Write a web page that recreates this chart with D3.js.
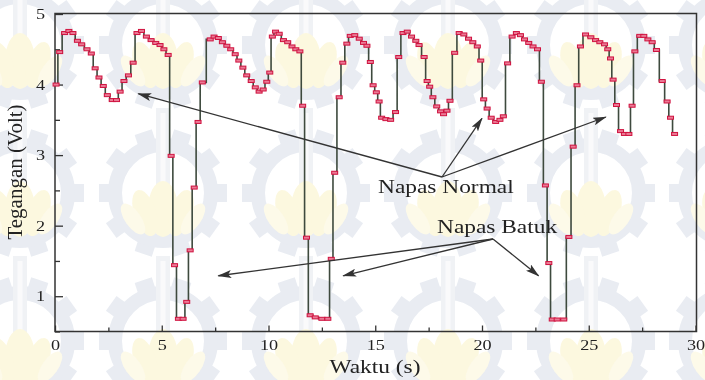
<!DOCTYPE html>
<html>
<head>
<meta charset="utf-8">
<script src="https://cdn.jsdelivr.net/npm/d3@7"></script>
<style>
  html, body { margin: 0; padding: 0; background: #ffffff; }
  svg { display: block; }
  text { font-family: "Liberation Serif", "Times New Roman", serif; fill: #222; }
</style>
</head>
<body>
<svg id="chart" width="705" height="380"></svg>
<script>
// Respiration sensor output: time (s) and voltage (V)
const waktu = [
  0.05, 0.22, 0.45, 0.65, 0.84, 1.05, 1.25, 1.50, 1.70, 1.88, 2.06, 2.26, 2.45, 2.68, 2.88,
  3.05, 3.23, 3.44, 3.66, 3.84, 4.05, 4.28, 4.50, 4.72, 4.92, 5.10, 5.30, 5.44, 5.60, 5.78,
  6.00, 6.17, 6.33, 6.52, 6.70, 6.90, 7.27, 7.45, 7.65, 7.84, 8.05, 8.23, 8.44, 8.61, 8.80,
  8.98, 9.19, 9.38, 9.56, 9.75, 9.92, 10.06, 10.18, 10.33, 10.50, 10.70, 10.90, 11.10, 11.28, 11.47,
  11.60, 11.78, 11.95, 12.19, 12.50, 12.78, 12.94, 13.10, 13.31, 13.48, 13.67, 13.83, 14.04, 14.25, 14.45,
  14.61, 14.77, 14.90, 15.05, 15.18, 15.30, 15.50, 15.72, 15.95, 16.10, 16.30, 16.50, 16.70, 16.90, 17.05,
  17.29, 17.43, 17.55, 17.70, 17.88, 18.06, 18.20, 18.36, 18.50, 18.72, 18.93, 19.15, 19.37, 19.57, 19.78,
  19.94, 20.08, 20.24, 20.43, 20.64, 20.84, 21.00, 21.20, 21.41, 21.61, 21.80, 21.99, 22.19, 22.39, 22.60,
  22.78, 22.97, 23.13, 23.29, 23.52, 23.83, 24.07, 24.27, 24.45, 24.61, 24.85, 25.10, 25.32, 25.52, 25.74,
  25.89, 26.02, 26.14, 26.30, 26.49, 26.67, 26.88, 27.03, 27.16, 27.39, 27.58, 27.77, 27.97, 28.17, 28.44,
  28.67, 28.83, 29.02
];
const tegangan = [
  4.00, 4.46, 4.73, 4.76, 4.73, 4.62, 4.57, 4.50, 4.44, 4.23, 4.10, 3.98, 3.85, 3.78, 3.78,
  3.90, 4.05, 4.13, 4.31, 4.73, 4.76, 4.68, 4.63, 4.59, 4.56, 4.50, 4.42, 2.99, 1.44, 0.68,
  0.68, 0.92, 1.65, 2.54, 3.47, 4.03, 4.64, 4.68, 4.66, 4.60, 4.55, 4.50, 4.43, 4.34, 4.24,
  4.13, 4.05, 3.96, 3.90, 3.93, 4.04, 4.17, 4.68, 4.75, 4.72, 4.63, 4.60, 4.54, 4.50, 4.47,
  3.70, 1.83, 0.73, 0.70, 0.68, 0.68, 1.53, 2.75, 3.82, 4.31, 4.58, 4.69, 4.70, 4.65, 4.59,
  4.55, 4.32, 3.99, 3.89, 3.76, 3.53, 3.51, 3.50, 3.61, 4.39, 4.73, 4.75, 4.68, 4.62, 4.56,
  4.39, 4.05, 3.97, 3.82, 3.69, 3.62, 3.58, 3.63, 3.77, 4.45, 4.73, 4.71, 4.65, 4.60, 4.54,
  4.34, 3.79, 3.66, 3.53, 3.47, 3.50, 3.55, 4.30, 4.68, 4.73, 4.70, 4.64, 4.59, 4.54, 4.50,
  4.04, 2.57, 1.47, 0.67, 0.67, 0.67, 1.84, 3.12, 3.99, 4.54, 4.71, 4.67, 4.63, 4.60, 4.57,
  4.50, 4.37, 4.07, 3.71, 3.34, 3.30, 3.30, 3.70, 4.47, 4.69, 4.69, 4.64, 4.60, 4.49, 4.05,
  3.76, 3.53, 3.30
];

// Axis ticks
const xMajor = [0, 5, 10, 15, 20, 25, 30];
const xMinor = [2.5, 7.5, 12.5, 17.5, 22.5, 27.5];
const yMajor = [1, 2, 3, 4, 5];
const yMinor = [0.5, 1.5, 2.5, 3.5, 4.5];

// Annotation labels and the points their arrows point at [t, v]
const labelNormal = "Napas Normal";
const targetsNormal = [[3.9, 3.87], [20.0, 3.52], [25.8, 3.54]];
const labelBatuk = "Napas Batuk";
const targetsBatuk = [[7.65, 1.29], [13.5, 1.29], [22.65, 1.29]];

const svg = d3.select("#chart");
const W = 705, H = 380;
const margin = { left: 55, right: 9.5, top: 14, bottom: 48.5 };

const x = d3.scaleLinear().domain([0, 30]).range([margin.left, W - margin.right]);
const y = d3.scaleLinear().domain([0.5, 5]).range([H - margin.bottom, margin.top]);

// ---- faint emblem watermark tiled behind the chart ----
const wm = svg.append("g").attr("class", "watermark").attr("opacity", 0.85);
const cols = [20, 163, 306, 448, 591, 733];
const rows = [45, 193, 341];
const gearCol = "#e5e9f0";
function emblem(g, cx, cy) {
  const e = g.append("g").attr("transform", `translate(${cx},${cy})`);
  // gear teeth
  for (let i = 0; i < 10; i++) {
    e.append("rect")
      .attr("x", -9).attr("y", -64).attr("width", 18).attr("height", 14)
      .attr("fill", gearCol)
      .attr("transform", `rotate(${i * 36 + 18})`);
  }
  // gear ring
  e.append("circle").attr("r", 48).attr("fill", "none")
    .attr("stroke", gearCol).attr("stroke-width", 14);
  // torch column
  e.append("rect").attr("x", -7).attr("y", -85).attr("width", 14).attr("height", 95)
    .attr("fill", "#eef0f4");
  e.append("rect").attr("x", -2.5).attr("y", -80).attr("width", 5).attr("height", 85)
    .attr("fill", "#fafafb");
  // lotus petals
  const petal = "#fcf7da";
  const petal2 = "#fdf9e6";
  e.append("ellipse").attr("cx", 0).attr("cy", 16).attr("rx", 15).attr("ry", 28).attr("fill", petal);
  e.append("ellipse").attr("cx", -18).attr("cy", 20).attr("rx", 11).attr("ry", 24)
    .attr("transform", "rotate(-18,-18,20)").attr("fill", petal);
  e.append("ellipse").attr("cx", 18).attr("cy", 20).attr("rx", 11).attr("ry", 24)
    .attr("transform", "rotate(18,18,20)").attr("fill", petal);
  e.append("ellipse").attr("cx", -30).attr("cy", 26).attr("rx", 8).attr("ry", 18)
    .attr("transform", "rotate(-35,-30,26)").attr("fill", petal2);
  e.append("ellipse").attr("cx", 30).attr("cy", 26).attr("rx", 8).attr("ry", 18)
    .attr("transform", "rotate(35,30,26)").attr("fill", petal2);
}
rows.forEach(cy => cols.forEach(cx => emblem(wm, cx, cy)));

// ---- axes (ticks point inward) ----
const sx = 1.3; // horizontal stretch of the serif lettering

const xAxis = svg.append("g").attr("transform", `translate(0,${y(0.5)})`)
  .call(d3.axisBottom(x).tickValues(xMajor).tickSize(-6).tickPadding(9).tickFormat(d3.format("d")));
svg.append("g").attr("transform", `translate(0,${y(0.5)})`)
  .call(d3.axisBottom(x).tickValues(xMinor).tickSize(-4).tickFormat(""));

const yAxis = svg.append("g").attr("transform", `translate(${x(0)},0)`)
  .call(d3.axisLeft(y).tickValues(yMajor).tickSize(-8).tickPadding(0).tickFormat(d3.format("d")));
svg.append("g").attr("transform", `translate(${x(0)},0)`)
  .call(d3.axisLeft(y).tickValues(yMinor).tickSize(-5).tickFormat(""));

svg.selectAll(".domain").remove();
svg.selectAll(".tick line").attr("stroke", "#333").attr("stroke-width", 1.3);

xAxis.selectAll("text")
  .attr("font-size", 14).attr("fill", "#222")
  .attr("transform", `scale(${sx},1)`);
yAxis.selectAll("text")
  .attr("font-size", 14).attr("fill", "#222")
  .attr("x", 0).attr("dy", "0.34em")
  .attr("transform", `translate(-10,0) scale(${sx},1)`);

// frame
svg.append("rect")
  .attr("x", x(0)).attr("y", y(5) - 0.5)
  .attr("width", x(30) + 1 - x(0)).attr("height", y(0.5) - y(5) + 0.5)
  .attr("fill", "none").attr("stroke", "#333").attr("stroke-width", 1.5);

// ---- signal ----
const pts = waktu.map((t, i) => [t, tegangan[i]]);
const line = d3.line().x(d => x(d[0])).y(d => y(d[1])).curve(d3.curveStep);
svg.append("path").datum(pts)
  .attr("d", line)
  .attr("fill", "none").attr("stroke", "#3e4a3e").attr("stroke-width", 1.6);

svg.append("g").selectAll("rect").data(pts).join("rect")
  .attr("x", d => x(d[0]) - 3).attr("y", d => y(d[1]) - 1.5)
  .attr("width", 6).attr("height", 3)
  .attr("fill", "#ea7a95").attr("stroke", "#d0123f").attr("stroke-width", 1);

// ---- annotations ----
const defs = svg.append("defs");
defs.append("marker")
  .attr("id", "head").attr("viewBox", "0 0 14 8")
  .attr("refX", 13).attr("refY", 4)
  .attr("markerWidth", 14).attr("markerHeight", 8)
  .attr("markerUnits", "userSpaceOnUse").attr("orient", "auto")
  .append("path").attr("d", "M0,0 L14,4 L0,8 L3,4 Z").attr("fill", "#333");

function annotate(label, tx, ty, origin, targets) {
  const g = svg.append("g");
  targets.forEach(([t, v]) => {
    g.append("line")
      .attr("x1", origin[0]).attr("y1", origin[1])
      .attr("x2", x(t)).attr("y2", y(v))
      .attr("stroke", "#333").attr("stroke-width", 1.3)
      .attr("marker-end", "url(#head)");
  });
  g.append("text")
    .attr("transform", `translate(${tx},${ty}) scale(${sx},1)`)
    .attr("font-size", 18).attr("fill", "#222")
    .text(label);
}
annotate(labelNormal, 378, 193, [442, 177], targetsNormal);
annotate(labelBatuk, 437, 233, [493, 239], targetsBatuk);

// axis titles
svg.append("text")
  .attr("transform", `translate(375,373) scale(${sx},1)`)
  .attr("text-anchor", "middle").attr("font-size", 18)
  .text("Waktu (s)");
svg.append("text")
  .attr("transform", `translate(22,172) rotate(-90)`)
  .attr("text-anchor", "middle").attr("font-size", 21)
  .text("Tegangan (Volt)");
</script>
</body>
</html>
